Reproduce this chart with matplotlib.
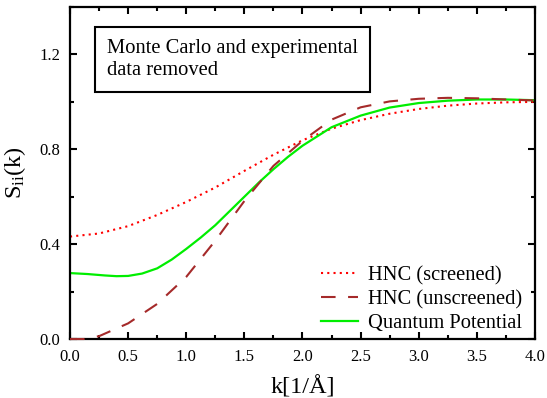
import matplotlib
matplotlib.use("Agg")
import matplotlib.pyplot as plt
from matplotlib.ticker import MultipleLocator

plt.rcParams['font.family'] = ['Liberation Serif', 'DejaVu Serif']
plt.rcParams['mathtext.fontset'] = 'custom'
plt.rcParams['mathtext.rm'] = 'Liberation Serif'
plt.rcParams['mathtext.it'] = 'Liberation Serif:italic'

# Data
k_screened = [0.0, 0.25, 0.5, 0.75, 1.0, 1.25, 1.5, 1.75, 2.0, 2.25, 2.5, 2.75, 3.0, 3.25, 3.5, 3.75, 4.0]
s_screened = [0.432, 0.445, 0.476, 0.523, 0.578, 0.639, 0.709, 0.777, 0.838, 0.887, 0.923, 0.950, 0.970, 0.984, 0.993, 0.998, 1.000]

k_unscreened = [0.0, 0.12, 0.25, 0.5, 0.75, 1.0, 1.25, 1.5, 1.75, 2.0, 2.25, 2.5, 2.75, 3.0, 3.25, 3.5, 3.75, 4.0]
s_unscreened = [0.0, 0.0, 0.012, 0.066, 0.148, 0.262, 0.415, 0.582, 0.730, 0.836, 0.925, 0.977, 1.002, 1.013, 1.017, 1.015, 1.010, 1.006]

k_quantum = [0.0, 0.15, 0.3, 0.4, 0.5, 0.62, 0.75, 0.875, 1.0, 1.125, 1.25, 1.375, 1.5, 1.625, 1.75, 1.875, 2.0, 2.25, 2.5, 2.75, 3.0, 3.25, 3.5, 3.75, 4.0]
s_quantum = [0.278, 0.274, 0.268, 0.265, 0.266, 0.276, 0.298, 0.335, 0.380, 0.428, 0.480, 0.540, 0.600, 0.660, 0.716, 0.768, 0.815, 0.893, 0.942, 0.976, 0.995, 1.005, 1.010, 1.010, 1.007]

labels = ["HNC (screened)", "HNC (unscreened)", "Quantum Potential"]
x_ticks = [0.0, 0.5, 1.0, 1.5, 2.0, 2.5, 3.0, 3.5, 4.0]
y_ticks = [0.0, 0.4, 0.8, 1.2]

fig = plt.figure(figsize=(5.47, 3.98), dpi=100)
ax = fig.add_axes([0.128, 0.1482, 0.85, 0.8342])

ax.plot(k_screened, s_screened, color='#ff0000', lw=1.5, linestyle=(0, (1, 2)), label=labels[0])
ax.plot(k_unscreened, s_unscreened, color='#a52a2a', lw=1.5, linestyle=(0, (7, 6)), label=labels[1],
        zorder=3, clip_on=False)
ax.plot(k_quantum, s_quantum, color='#00ee00', lw=1.6, label=labels[2])

ax.set_xlim(0, 4.0)
ax.set_ylim(0, 1.4)
ax.set_xticks(x_ticks)
ax.set_xticklabels([f"{v:.1f}" for v in x_ticks])
ax.set_yticks(y_ticks)
ax.set_yticklabels([f"{v:.1f}" for v in y_ticks])
ax.xaxis.set_minor_locator(MultipleLocator(0.25))
ax.yaxis.set_minor_locator(MultipleLocator(0.2))
ax.tick_params(which='both', direction='in', top=True, right=True, width=1.5, labelsize=12, pad=7)
ax.tick_params(which='major', length=5)
ax.tick_params(which='minor', length=3)
for sp in ax.spines.values():
    sp.set_linewidth(1.6)

ax.set_xlabel('k[1/Å]', fontsize=17.5, labelpad=8)
ax.set_ylabel('$\\mathrm{S_{ii}(k)}$', fontsize=17.5, labelpad=8)

ax.text(0.32, 1.265, 'Monte Carlo and experimental\ndata removed', fontsize=14.8,
        va='top', ha='left', linespacing=1.2,
        bbox=dict(boxstyle='square,pad=0.57', facecolor='white', edgecolor='black', lw=1.5))

ax.legend(loc='lower right', bbox_to_anchor=(0.99, -0.008), frameon=False, fontsize=14.8,
          handlelength=1.8, handletextpad=0.5, labelspacing=0.22, borderaxespad=0.0, borderpad=0.4)

fig.savefig('out.png', dpi=100)
